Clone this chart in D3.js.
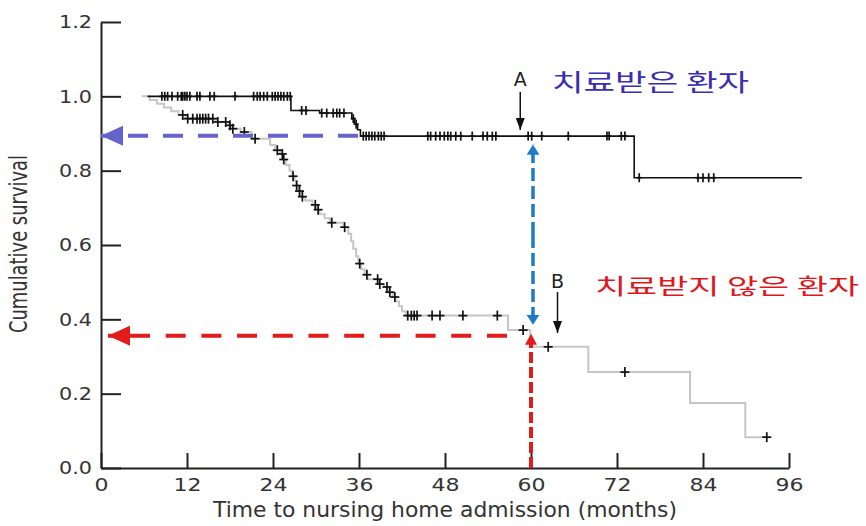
<!DOCTYPE html>
<html>
<head>
<meta charset="utf-8">
<script src="https://cdn.jsdelivr.net/npm/d3@7"></script>
<style>
  html, body { margin: 0; padding: 0; background: #fff; }
  svg { display: block; }
</style>
</head>
<body>
<div id="chart"></div>
<script>
(function() {

  'use strict';

  // Axis ticks
  var monthTicks = [0, 12, 24, 36, 48, 60, 72, 84, 96];
  var survivalTicks = [0, 0.2, 0.4, 0.6, 0.8, 1.0, 1.2];

  // Treated patients (black curve): step times (months) and survival after each step
  var treatedTimes = [6.5, 26.5, 30.5, 35.0, 35.4, 35.8, 36.2, 74.4];
  var treatedSurv = [1.0, 0.962, 0.955, 0.94, 0.925, 0.91, 0.893, 0.781];
  var treatedEnd = 97.8;
  var treatedCensored = [
    8.5, 8.9, 9.3, 9.9, 10.7, 11.2, 11.4, 11.7, 12.0, 12.4, 13.4, 13.8, 15.2, 15.8, 18.7,
    21.3, 21.8, 22.2, 22.7, 23.2, 23.9, 24.3, 24.7, 25.1, 25.5, 26.0, 26.4,
    28.0, 28.6, 30.8, 31.5, 32.4, 32.9, 33.3, 33.9, 35.2, 35.6,
    36.6, 37.0, 37.4, 37.8, 38.2, 38.7, 39.1, 39.5,
    45.6, 46.0, 46.7, 47.3, 47.9, 48.4, 48.8, 49.5, 50.2, 51.8, 53.3, 53.9, 54.6, 55.1,
    59.6, 60.1, 61.5, 65.2, 70.6, 70.9, 72.6, 73.1, 75.1, 83.3, 84.0, 84.8, 85.5
  ];

  // Untreated patients (grey curve)
  var untreatedTimes = [
    5.7, 6.8, 7.8, 8.8, 9.8, 10.8, 11.8, 16.0, 17.8, 18.3, 19.5, 21.0, 23.6, 24.3, 25.0,
    25.4, 25.8, 26.3, 26.7, 27.0, 27.3, 27.6, 28.0, 28.5, 29.5, 30.0, 30.5, 31.2, 32.0,
    33.8, 34.5, 34.9, 35.2, 35.6, 35.9, 36.3, 36.8, 37.2, 38.8, 39.5, 40.2, 40.7, 41.1,
    41.6, 42.0, 42.5, 56.8, 59.9, 68.0, 82.2, 89.9
  ];
  var untreatedSurv = [
    1.0, 0.99, 0.98, 0.97, 0.96, 0.95, 0.94, 0.931, 0.922, 0.913, 0.904, 0.886, 0.869, 0.855, 0.845,
    0.83, 0.815, 0.80, 0.785, 0.772, 0.76, 0.745, 0.73, 0.72, 0.708, 0.695, 0.683, 0.672, 0.66,
    0.648, 0.63, 0.61, 0.59, 0.57, 0.55, 0.535, 0.52, 0.508, 0.495, 0.487, 0.473, 0.46, 0.448,
    0.435, 0.422, 0.41, 0.371, 0.326, 0.258, 0.175, 0.083
  ];
  var untreatedEnd = 93.3;
  var untreatedCensored = [
    11.4, 12.1, 12.8, 13.4, 13.8, 14.2, 14.6, 15.0, 15.6, 16.3, 17.4, 18.0, 18.4, 20.0, 21.5,
    24.6, 25.3, 25.5, 26.8, 27.3, 27.7, 28.1, 29.9, 30.3, 32.2, 34.0, 36.1, 37.1, 38.6, 38.9,
    39.9, 40.3, 41.0, 42.8, 43.3, 43.7, 44.1, 46.2, 47.3, 50.5, 55.3, 58.9, 62.4, 73.1, 92.9
  ];

  // Reading at 60 months
  var readMonth = 60;
  var treatedAt60 = 0.894;
  var untreatedAt60 = 0.356;

  var width = 866;
  var height = 526;

  var x = d3.scaleLinear().domain([0, 96]).range([101, 789]);
  var y = d3.scaleLinear().domain([0, 1.2]).range([468, 22]);

  var svg = d3.select('#chart').append('svg')
    .attr('width', width)
    .attr('height', height);

  var defs = svg.append('defs');
  function arrowMarker(id, color, w, h) {
    defs.append('marker')
      .attr('id', id)
      .attr('viewBox', '0 0 ' + w + ' ' + h)
      .attr('refX', w)
      .attr('refY', h / 2)
      .attr('markerUnits', 'userSpaceOnUse')
      .attr('markerWidth', w)
      .attr('markerHeight', h)
      .attr('orient', 'auto')
      .append('path')
      .attr('d', 'M0,0L' + w + ',' + (h / 2) + 'L0,' + h + 'Z')
      .attr('fill', color);
  }
  arrowMarker('head-purple', '#6464cc', 22, 20);
  arrowMarker('head-red', '#e31b1b', 22, 20);
  arrowMarker('head-red-v', '#e31b1b', 11, 12);
  arrowMarker('head-blue', '#1f7bc4', 10, 13);
  arrowMarker('head-black', '#111', 12, 9);

  // Axes
  var yAxis = d3.axisLeft(y)
    .tickValues(survivalTicks)
    .tickFormat(d3.format('.1f'))
    .tickSize(-20)
    .tickSizeOuter(0)
    .tickPadding(9);

  var xAxis = d3.axisBottom(x)
    .tickValues(monthTicks)
    .tickFormat(d3.format('d'))
    .tickSize(-15)
    .tickSizeOuter(0)
    .tickPadding(10);

  var gy = svg.append('g')
    .attr('transform', 'translate(' + x(0) + ',0)')
    .call(yAxis);
  var gx = svg.append('g')
    .attr('transform', 'translate(0,' + y(0) + ')')
    .call(xAxis);

  [gx, gy].forEach(function(g) {
    g.attr('font-family', '"DejaVu Sans", sans-serif').attr('font-size', 18);
    g.selectAll('path, line').attr('stroke', '#222').attr('stroke-width', 2);
    g.selectAll('text').attr('fill', '#333');
  });
  gy.selectAll('text')
    .attr('textLength', 33)
    .attr('lengthAdjust', 'spacingAndGlyphs');
  gx.selectAll('text')
    .attr('dy', '0.72em')
    .attr('textLength', function(d) { return String(d).length > 1 ? 28 : 14; })
    .attr('lengthAdjust', 'spacingAndGlyphs');

  // Axis titles
  svg.append('text')
    .attr('x', 445)
    .attr('y', 517)
    .attr('text-anchor', 'middle')
    .attr('font-family', '"DejaVu Sans", sans-serif')
    .attr('font-size', 21)
    .attr('fill', '#333')
    .attr('textLength', 464)
    .attr('lengthAdjust', 'spacingAndGlyphs')
    .text('Time to nursing home admission (months)');

  svg.append('text')
    .attr('transform', 'translate(27,244) scale(1.35,1) rotate(-90)')
    .attr('text-anchor', 'middle')
    .attr('font-family', '"DejaVu Sans", sans-serif')
    .attr('font-size', 19)
    .attr('fill', '#333')
    .attr('textLength', 178)
    .attr('lengthAdjust', 'spacingAndGlyphs')
    .text('Cumulative survival');

  // Survival curves
  function stepPoints(times, surv, end) {
    var pts = times.map(function(t, i) { return [t, surv[i]]; });
    pts.push([end, surv[surv.length - 1]]);
    return pts;
  }
  function survivalAt(times, surv, t) {
    return surv[Math.max(0, d3.bisectRight(times, t) - 1)];
  }

  var stepLine = d3.line()
    .x(function(d) { return x(d[0]); })
    .y(function(d) { return y(d[1]); })
    .curve(d3.curveStepAfter);

  svg.append('path')
    .datum(stepPoints(untreatedTimes, untreatedSurv, untreatedEnd))
    .attr('fill', 'none')
    .attr('stroke', '#c6c6c6')
    .attr('stroke-width', 2)
    .attr('d', stepLine);

  svg.append('path')
    .datum(stepPoints(treatedTimes, treatedSurv, treatedEnd))
    .attr('fill', 'none')
    .attr('stroke', '#111')
    .attr('stroke-width', 1.6)
    .attr('d', stepLine);

  function drawCensored(times, surv, censored, w, h) {
    var g = svg.append('g').attr('stroke', '#111').attr('stroke-width', 1.7);
    var marks = g.selectAll('g')
      .data(censored)
      .enter().append('g')
      .attr('transform', function(t) {
        return 'translate(' + x(t) + ',' + y(survivalAt(times, surv, t)) + ')';
      });
    marks.append('line').attr('x1', -w / 2).attr('x2', w / 2);
    marks.append('line').attr('y1', -h / 2).attr('y2', h / 2);
  }
  drawCensored(untreatedTimes, untreatedSurv, untreatedCensored, 9, 10);
  drawCensored(treatedTimes, treatedSurv, treatedCensored, 5, 9);

  // Dashed reading arrows at 60 months
  svg.append('line')
    .attr('x1', 358).attr('x2', x(0))
    .attr('y1', y(treatedAt60)).attr('y2', y(treatedAt60))
    .attr('stroke', '#6464cc')
    .attr('stroke-width', 4)
    .attr('stroke-dasharray', '20,15')
    .attr('marker-end', 'url(#head-purple)');

  svg.append('line')
    .attr('x1', 507).attr('x2', x(0) + 7)
    .attr('y1', y(untreatedAt60)).attr('y2', y(untreatedAt60))
    .attr('stroke', '#e31b1b')
    .attr('stroke-width', 4)
    .attr('stroke-dasharray', '20,15.7')
    .attr('marker-end', 'url(#head-red)');

  svg.append('line')
    .attr('x1', x(readMonth)).attr('x2', x(readMonth))
    .attr('y1', y(0)).attr('y2', y(untreatedAt60) - 2)
    .attr('stroke', '#e31b1b')
    .attr('stroke-width', 4)
    .attr('stroke-dasharray', '11,4')
    .attr('marker-end', 'url(#head-red-v)');

  svg.append('line')
    .attr('x1', x(readMonth) + 2).attr('x2', x(readMonth) + 2)
    .attr('y1', 235).attr('y2', y(treatedAt60) + 9)
    .attr('stroke', '#1f7bc4')
    .attr('stroke-width', 3.5)
    .attr('stroke-dasharray', '13,5')
    .attr('marker-end', 'url(#head-blue)');
  svg.append('line')
    .attr('x1', x(readMonth) + 2).attr('x2', x(readMonth) + 2)
    .attr('y1', 235).attr('y2', y(untreatedAt60) - 11)
    .attr('stroke', '#1f7bc4')
    .attr('stroke-width', 3.5)
    .attr('stroke-dasharray', '13,5')
    .attr('marker-end', 'url(#head-blue)');

  // A / B pointers
  function pointer(label, px, top, tip, labelY) {
    svg.append('line')
      .attr('x1', px).attr('x2', px)
      .attr('y1', top).attr('y2', tip)
      .attr('stroke', '#111')
      .attr('stroke-width', 1.5)
      .attr('marker-end', 'url(#head-black)');
    svg.append('text')
      .attr('x', px)
      .attr('y', labelY)
      .attr('text-anchor', 'middle')
      .attr('font-family', '"DejaVu Sans", sans-serif')
      .attr('font-size', 19)
      .attr('fill', '#222')
      .text(label);
  }
  pointer('A', x(58.5), 92, 130, 86);
  pointer('B', x(63.7), 292, 333, 288);

  // Korean group labels
  svg.append('text')
    .attr('x', 552)
    .attr('y', 91)
    .attr('font-family', '"Noto Sans CJK KR", sans-serif')
    .attr('font-size', 24)
    .attr('font-weight', 400)
    .attr('fill', '#3a2fb0')
    .attr('textLength', 197)
    .attr('lengthAdjust', 'spacingAndGlyphs')
    .text('치료받은 환자');

  svg.append('text')
    .attr('x', 595)
    .attr('y', 294)
    .attr('font-family', '"Noto Sans CJK KR", sans-serif')
    .attr('font-size', 22)
    .attr('font-weight', 400)
    .attr('fill', '#e0161b')
    .attr('textLength', 264)
    .attr('lengthAdjust', 'spacingAndGlyphs')
    .text('치료받지 않은 환자');

}());
</script>
</body>
</html>
